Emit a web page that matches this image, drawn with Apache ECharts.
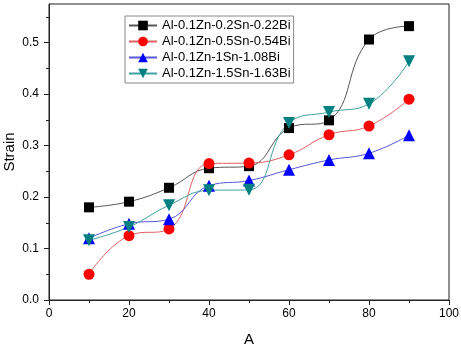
<!DOCTYPE html>
<html>
<head>
<meta charset="utf-8">
<script src="https://cdn.jsdelivr.net/npm/echarts@6/dist/echarts.min.js"></script>
<style>
	html, body { margin: 0; padding: 0; background: #fff; }
	#chart { width: 461px; height: 345px; }
</style>
</head>
<body>
<div id="chart"></div>
<script type="text/javascript">
	// x positions (A)
	var xs = [10, 20, 30, 40, 50, 60, 70, 80, 90];
	// strain values
	var s022 = [0.180, 0.191, 0.218, 0.256, 0.260, 0.334, 0.349, 0.506, 0.532];
	var s054 = [0.050, 0.125, 0.138, 0.265, 0.266, 0.282, 0.321, 0.338, 0.390];
	var s108 = [0.120, 0.148, 0.157, 0.222, 0.232, 0.253, 0.272, 0.285, 0.320];
	var s163 = [0.116, 0.142, 0.184, 0.213, 0.214, 0.344, 0.365, 0.381, 0.464];
	var names = ['Al-0.1Zn-0.2Sn-0.22Bi', 'Al-0.1Zn-0.5Sn-0.54Bi', 'Al-0.1Zn-1Sn-1.08Bi', 'Al-0.1Zn-1.5Sn-1.63Bi'];
	var yMajor = [0, 0.1, 0.2, 0.3, 0.4, 0.5];
	var yMinor = [0.05, 0.15, 0.25, 0.35, 0.45, 0.55];

	function pairs(ys) {
		return xs.map(function (x, i) { return [x, ys[i]]; });
	}

	var chart = echarts.init(document.getElementById('chart'));
	var font = 'Arial, "Liberation Sans", sans-serif';

	function mkSeries(name, ys, sym, size, rot, markColor, lineColor) {
		return {
			name: name,
			type: 'line',
			smooth: 0.45,
			data: pairs(ys),
			symbol: sym,
			symbolSize: size,
			symbolRotate: rot,
			itemStyle: { color: markColor },
			lineStyle: { color: lineColor, width: 1 }
		};
	}

	var option = {
		animation: false,
		grid: {
			left: 49, right: 12, top: 4, bottom: 45,
			outerBoundsMode: 'none',
			containLabel: false,
			show: true, borderColor: '#222', borderWidth: 1
		},
		legend: {
			orient: 'vertical',
			left: 125, top: 16,
			padding: [3, 3, 3, 3],
			borderColor: '#888', borderWidth: 1,
			itemWidth: 28, itemHeight: 12, itemGap: 3,
			textStyle: { fontFamily: font, fontSize: 13, color: '#000' },
			data: names
		},
		xAxis: {
			type: 'value',
			min: 0, max: 100, interval: 20,
			name: 'A', nameLocation: 'middle', nameGap: 32,
			nameMoveOverlap: false,
			nameTextStyle: { fontFamily: font, fontSize: 15, color: '#000' },
			axisLine: { lineStyle: { color: '#222', width: 1 } },
			axisTick: { inside: false, length: 5, lineStyle: { color: '#222' } },
			minorTick: { show: true, splitNumber: 2, length: 3, lineStyle: { color: '#222' } },
			axisLabel: { fontFamily: font, fontSize: 12, color: '#000', margin: 8 },
			splitLine: { show: false }
		},
		yAxis: [{
			type: 'value',
			min: 0, max: 0.575,
			name: 'Strain', nameLocation: 'middle', nameGap: 32,
			nameMoveOverlap: false,
			nameTextStyle: { fontFamily: font, fontSize: 15, color: '#000' },
			axisLine: { show: true, lineStyle: { color: '#222', width: 1 } },
			axisTick: { show: true, length: 5, customValues: yMajor, lineStyle: { color: '#222' } },
			axisLabel: {
				fontFamily: font, fontSize: 12, color: '#000', margin: 10,
				customValues: yMajor,
				formatter: function (v) { return v.toFixed(1); }
			},
			splitLine: { show: false }
		}, {
			type: 'value',
			min: 0, max: 0.575,
			position: 'left',
			axisLine: { show: false },
			axisTick: { show: true, length: 3, customValues: yMinor, lineStyle: { color: '#222' } },
			axisLabel: { show: false },
			splitLine: { show: false }
		}],
		series: [
			mkSeries(names[0], s022, 'rect', 10, 0, '#000000', '#555555'),
			mkSeries(names[1], s054, 'circle', 11, 0, '#ff0000', '#e06060'),
			mkSeries(names[2], s108, 'triangle', 12, 0, '#0000ff', '#5555dd'),
			mkSeries(names[3], s163, 'triangle', 12, 180, '#008080', '#40a0a0')
		]
	};
	chart.setOption(option);
	window.onresize = function () {
		chart.resize();
	};
</script>
</body>
</html>
